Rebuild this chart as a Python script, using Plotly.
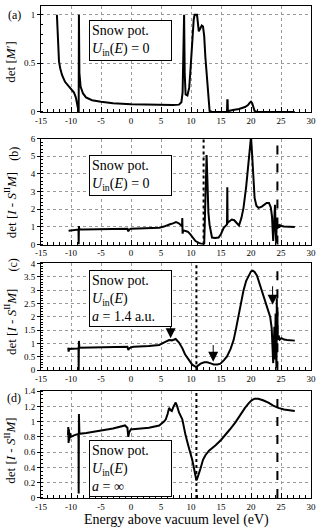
import plotly.graph_objects as go

# ---------------- data ----------------
E_a = [-12.35, -12.25, -12.1, -12.0, -11.8, -11.5, -11.0, -10.5, -10.0, -9.5,
       -9.2, -9.0, -8.85, -8.72, -8.68, -8.6, -8.4, -8.0, -7.5, -6.5,
       -5.0, -3.0, 0.0, 3.0, 5.0, 7.0, 8.0, 8.4, 8.6, 8.75,
       8.85, 8.95, 9.1, 9.4, 9.7, 9.9, 10.2, 10.45, 10.6, 11.0,
       11.3, 11.6, 11.8, 12.0, 12.2, 12.4, 12.6, 12.85, 13.1, 13.5,
       15.0, 16.0, 16.05, 16.1, 16.15, 16.3, 17.0, 18.0, 19.0, 19.5,
       19.8, 20.0, 20.2, 20.4, 20.6, 21.0, 23.0, 25.0, 27.3]
det_a = [1.0, 0.85, 0.62, 0.52, 0.45, 0.38, 0.31, 0.27, 0.24, 0.2,
         0.15, 0.09, 0.03, 0.0, 1.0, 0.4, 0.26, 0.19, 0.15, 0.12,
         0.105, 0.09, 0.08, 0.075, 0.07, 0.07, 0.075, 0.1, 0.2, 0.6,
         1.0, 0.4, 0.18, 0.17, 0.25, 0.42, 0.76, 0.95, 1.0, 1.0,
         0.83, 0.87, 0.89, 0.88, 0.78, 0.56, 0.38, 0.2, 0.01, 0.0,
         0.0, 0.0, 0.12, 0.12, 0.0, 0.01, 0.02, 0.03, 0.05, 0.07,
         0.095, 0.105, 0.09, 0.05, 0.01, 0.0, 0.0, 0.0, 0.0]

E_b = [-10.4, -10.0, -9.5, -9.0, -8.75, -8.72, -8.68, -8.6, -8.0, -7.0,
       -5.0, -3.0, -1.0, -0.6, -0.45, -0.3, 0.0, 1.0, 3.0, 4.7,
       5.5, 6.1, 6.5, 7.0, 7.5, 7.9, 8.3, 8.5, 8.55, 8.6,
       8.7, 9.1, 9.5, 9.9, 10.3, 10.75, 11.3, 11.85, 12.2, 12.4,
       12.5, 12.6, 12.75, 12.9, 13.1, 13.5, 14.0, 14.6, 15.0, 15.45,
       16.0, 16.05, 16.1, 16.15, 16.3, 16.8, 17.2, 17.65, 18.0, 18.4,
       18.75, 19.2, 19.6, 19.85, 20.0, 20.1, 20.25, 20.6, 20.9, 21.25,
       21.8, 22.3, 22.6, 23.0, 23.3, 23.5, 23.7, 23.85, 24.0, 24.1,
       24.2, 24.3, 24.4, 24.55, 24.7, 24.85, 25.1, 25.5, 26.0, 26.5,
       27.3]
det_b = [0.78, 0.8, 0.82, 0.84, 0.85, 0.0, 1.05, 0.86, 0.86, 0.87,
         0.88, 0.9, 0.92, 0.9, 0.75, 0.85, 0.9, 0.91, 0.92, 0.96,
         1.02, 1.12, 1.15, 1.2, 1.27, 1.22, 1.1, 1.05, 1.5, 0.62,
         0.8, 0.77, 0.72, 0.58, 0.4, 0.2, 0.1, 0.02, 0.05, 2.5,
         4.3, 5.07, 3.5, 1.8, 1.1, 0.4, 0.38, 0.4, 0.6, 0.95,
         1.14, 3.24, 1.2, 1.25, 1.3, 1.42, 1.38, 1.24, 1.08, 1.5,
         2.08, 3.3, 4.7, 5.7, 6.1, 5.6, 4.7, 2.64, 2.2, 2.08,
         2.15, 2.3, 2.36, 2.36, 2.1, 1.6, 0.2, 1.2, 2.26, 1.0,
         0.1, 1.5, 0.9, 1.14, 0.95, 1.1, 1.05, 1.02, 1.0, 1.0,
         0.99]

E_c = [-10.45, -10.4, -10.3, -10.0, -9.5, -9.0, -8.75, -8.72, -8.68, -8.6,
       -7.0, -5.0, -3.0, -1.0, -0.6, -0.45, -0.3, 0.0, 0.5, 3.0,
       4.7, 5.8, 6.35, 6.8, 7.1, 7.45, 8.0, 8.55, 9.0, 9.4,
       9.8, 10.2, 10.85, 11.2, 11.6, 12.2, 12.7, 13.3, 13.8, 14.4,
       14.9, 15.5, 16.0, 16.6, 17.1, 17.5, 17.9, 18.3, 18.75, 19.2,
       19.6, 20.0, 20.3, 20.6, 21.0, 21.4, 21.8, 22.2, 22.6, 23.0,
       23.2, 23.45, 23.6, 23.7, 23.8, 23.9, 24.0, 24.1, 24.15, 24.2,
       24.25, 24.3, 24.35, 24.4, 24.45, 24.6, 24.8, 25.1, 25.5, 26.0,
       26.5, 27.3]
det_c = [0.85, 0.7, 0.8, 0.8, 0.81, 0.82, 0.83, 0.0, 1.1, 0.84,
         0.85, 0.86, 0.88, 0.9, 0.88, 0.76, 0.82, 0.86, 0.88, 0.91,
         0.95, 1.07, 1.13, 1.12, 1.15, 1.17, 1.04, 0.83, 0.6, 0.46,
         0.32, 0.21, 0.12, 0.18, 0.25, 0.3, 0.3, 0.26, 0.22, 0.22,
         0.25, 0.38, 0.52, 0.8, 1.13, 1.55, 2.0, 2.5, 2.99, 3.35,
         3.54, 3.7, 3.73, 3.68, 3.54, 3.25, 2.99, 2.65, 2.37, 2.15,
         2.0, 1.57, 0.9, 0.27, 1.0, 1.63, 0.4, 2.12, 0.8, 2.5,
         0.1, 2.7, 1.2, 2.2, 1.13, 1.3, 1.15, 1.2, 1.15, 1.13,
         1.12, 1.11]

E_d = [-10.5, -10.45, -10.4, -10.35, -10.3, -10.2, -10.0, -9.5, -9.0, -8.75,
       -8.72, -8.68, -8.6, -7.45, -5.0, -3.0, -1.0, -0.6, -0.45, -0.3,
       0.0, 0.3, 3.0, 4.7, 5.5, 5.8, 6.1, 6.35, 6.6, 6.8,
       7.1, 7.45, 7.7, 8.0, 8.55, 8.8, 9.1, 9.5, 9.9, 10.2,
       10.5, 10.75, 10.9, 11.1, 11.3, 11.6, 12.0, 12.4, 13.0, 14.1,
       15.0, 15.7, 16.5, 17.4, 18.2, 19.0, 19.6, 20.1, 20.6, 21.2,
       22.0, 22.9, 23.7, 24.55, 25.5, 26.5, 27.3]
det_d = [0.82, 0.93, 0.72, 0.9, 0.75, 0.85, 0.8, 0.82, 0.83, 0.84,
         0.06, 1.1, 0.84, 0.85, 0.88, 0.91, 0.95, 0.92, 0.8, 0.86,
         0.9, 0.9, 0.92, 0.95, 1.0, 1.03, 1.1, 1.18, 1.15, 1.14,
         1.2, 1.25, 1.2, 1.12, 1.03, 0.92, 0.82, 0.7, 0.6, 0.5,
         0.39, 0.28, 0.23, 0.27, 0.33, 0.39, 0.5, 0.56, 0.62, 0.69,
         0.76, 0.82, 0.9, 0.99, 1.09, 1.18, 1.24, 1.28, 1.3, 1.3,
         1.28, 1.25, 1.21, 1.18, 1.16, 1.15, 1.14]

# reference energies (vertical lines) for panels b, c, d
dotted_E = [12.1, 10.9, 10.9]
dashed_E = 24.4

# arrows in panel (c): energy, tail value, head value
arrow_E = [6.6, 13.7, 23.6]
arrow_tail = [1.8, 1.0, 3.2]
arrow_head = [1.2, 0.32, 2.45]

x_ticks = [-15, -10, -5, 0, 5, 10, 15, 20, 25, 30]
x_ticklabels = ["-15", "-10", "-5", "0", "5", "10", "15", "20", "25", "30"]

y_ticks = [
    [0, 0.5, 1],
    [0, 1, 2, 3, 4, 5, 6],
    [0, 0.5, 1, 1.5, 2, 2.5, 3, 3.5, 4],
    [0, 0.2, 0.4, 0.6, 0.8, 1, 1.2, 1.4],
]
y_ticklabels = [
    ["0", "0.5", "1"],
    ["0", "1", "2", "3", "4", "5", "6"],
    ["0", "0.5", "1", "1.5", "2", "2.5", "3", "3.5", "4"],
    ["0", "0.2", "0.4", "0.6", "0.8", "1", "1.2", "1.4"],
]
y_ranges = [[0, 1.09], [0, 6], [0, 4], [0, 1.4]]
y_minor = [0.1, 0.2, 0.1, 0.05]

# ---------------- figure ----------------
FONT = "Liberation Serif"
W, H = 317, 528
ML, MR, MT, MB = 41, 4, 1, 30
ph = H - MT - MB
pw = W - ML - MR

def py(pix):
    return (H - MB - pix) / ph

def px(pix):
    return (pix - ML) / pw

domains = [[py(108), py(1)], [py(242), py(135)], [py(369), py(261)], [0.0, py(390)]]

fig = go.Figure()
series = [(E_a, det_a), (E_b, det_b), (E_c, det_c), (E_d, det_d)]
for i, (ex, dy) in enumerate(series):
    sfx = "" if i == 0 else str(i + 1)
    fig.add_trace(go.Scatter(x=ex, y=dy, mode="lines",
                             line=dict(color="black", width=2),
                             xaxis="x" + sfx, yaxis="y" + sfx,
                             showlegend=False, hoverinfo="skip"))

layout = dict(width=W, height=H, margin=dict(l=ML, r=MR, t=MT, b=MB),
              paper_bgcolor="white", plot_bgcolor="white",
              font=dict(family=FONT, color="black", size=9),
              showlegend=False)
for i in range(4):
    sfx = "" if i == 0 else str(i + 1)
    layout["xaxis" + sfx] = dict(
        domain=[0, 1], anchor="y" + sfx, range=[-15, 30],
        tickmode="array", tickvals=x_ticks, ticktext=x_ticklabels,
        ticks="inside", ticklen=5, tickwidth=1, tickcolor="black",
        ticklabeloverflow="allow",
        minor=dict(tickmode="linear", tick0=0, dtick=1, ticks="inside",
                   ticklen=3, tickcolor="black", showgrid=False),
        showgrid=True, gridcolor="#9a9a9a", griddash="dot", gridwidth=1,
        showline=True, linecolor="black", linewidth=1, mirror=True,
        zeroline=False, tickfont=dict(family=FONT, size=9, color="black"))
    layout["yaxis" + sfx] = dict(
        domain=domains[i], anchor="x" + sfx, range=y_ranges[i],
        tickmode="array", tickvals=y_ticks[i], ticktext=y_ticklabels[i],
        ticks="outside", ticklen=3, tickwidth=1, tickcolor="black",
        ticklabeloverflow="allow",
        minor=dict(tickmode="linear", tick0=0, dtick=y_minor[i], ticks="inside",
                   ticklen=2, tickcolor="black", showgrid=False),
        showgrid=True, gridcolor="#9a9a9a", griddash="dot", gridwidth=1,
        showline=True, linecolor="black", linewidth=1, mirror=True,
        zeroline=False, tickfont=dict(family=FONT, size=9, color="black"))
fig.update_layout(**layout)

# vertical reference lines
for j, e in enumerate(dotted_E):
    sfx = str(j + 2)
    fig.add_shape(type="line", xref="x" + sfx, yref="y" + sfx + " domain",
                  x0=e, x1=e, y0=0, y1=1, line=dict(color="black", width=2, dash="dot"))
    fig.add_shape(type="line", xref="x" + sfx, yref="y" + sfx + " domain",
                  x0=dashed_E, x1=dashed_E, y0=0, y1=1,
                  line=dict(color="black", width=2, dash="dash"))

# arrows panel c
for e, t, h in zip(arrow_E, arrow_tail, arrow_head):
    fig.add_annotation(x=e, y=h, ax=e, ay=t, xref="x3", yref="y3",
                       axref="x3", ayref="y3", text="", showarrow=True,
                       arrowhead=2, arrowsize=2, arrowwidth=1, arrowcolor="black")

# text boxes
box_text = [
    "Snow pot.<br><i>U</i><sub>in</sub>(<i>E</i>) = 0",
    "Snow pot.<br><i>U</i><sub>in</sub>(<i>E</i>) = 0",
    "Snow pot.<br><i>U</i><sub>in</sub>(<i>E</i>)<br><i>a</i> = 1.4 a.u.",
    "Snow pot.<br><i>U</i><sub>in</sub>(<i>E</i>)<br><i>a</i> = ∞",
]
box_top = [15, 152, 268, 439]
for txt, top in zip(box_text, box_top):
    fig.add_annotation(x=px(89.5), y=py(top), xref="paper", yref="paper",
                       xanchor="left", yanchor="top", align="left",
                       text=txt, showarrow=False, width=77,
                       font=dict(family=FONT, size=14, color="black"),
                       bgcolor="white", bordercolor="black", borderwidth=1, borderpad=2)

# y-axis titles
ytitles = ["det [<i>M</i>′]"] + ["det [<i>I</i> - <i>S</i><sup>II</sup><i>M</i>]"] * 3
ytitle_y = [57, 202, 320, 450]
for yy, t in zip(ytitle_y, ytitles):
    fig.add_annotation(x=px(10), y=py(yy), xref="paper", yref="paper",
                       text=t, textangle=-90, showarrow=False,
                       xanchor="center", yanchor="middle",
                       font=dict(family=FONT, size=13, color="black"))

# panel labels
labels = [("(a)", 14, 10, 0), ("(b)", 13, 150, -90), ("(c)", 13, 263, -90), ("(d)", 14, 397, 0)]
for lab, lx, ly, ang in labels:
    fig.add_annotation(x=px(lx), y=py(ly), xref="paper", yref="paper",
                       text=lab, textangle=ang, showarrow=False,
                       xanchor="center", yanchor="middle",
                       font=dict(family=FONT, size=12, color="black"))

# x-axis title
fig.add_annotation(x=0.5, y=0, xref="paper", yref="paper", yshift=-22,
                   text="Energy above vacuum level (eV)", showarrow=False,
                   xanchor="center", yanchor="middle",
                   font=dict(family=FONT, size=14, color="black"))

fig.write_html("out.html", config={"displayModeBar": False},
               post_script="document.body.style.margin='0';")
